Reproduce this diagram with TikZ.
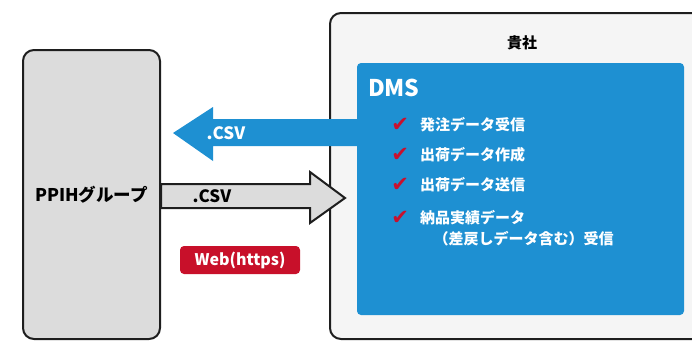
\documentclass[tikz,border=0pt]{standalone}
\usepackage{fontspec}
\setmainfont{Noto Sans CJK JP}
\newfontfamily\symfont{DejaVu Sans}
\usetikzlibrary{positioning}

\definecolor{dmsblue}{HTML}{1E90D2}
\definecolor{ppihgray}{HTML}{DCDCDC}
\definecolor{kishagray}{HTML}{F5F5F5}
\definecolor{webred}{HTML}{C8102A}
\definecolor{checkred}{HTML}{C8102E}
\definecolor{edge}{HTML}{1E1E1E}

\begin{document}
\begin{tikzpicture}[x=1pt,y=-1pt,node distance=4pt,
                    line width=2pt]
  \tikzstyle{company}=[draw=edge,rounded corners=11pt,inner sep=0pt]
  \tikzstyle{item}=[text=white,anchor=west,inner sep=0pt,align=left,
                    font=\fontsize{15}{21}\selectfont\bfseries]
  \tikzstyle{check}=[text=checkred,inner sep=0pt,
                     font=\symfont\fontsize{21}{21}\selectfont\bfseries]
  \tikzstyle{csv}=[inner sep=0pt,font=\fontsize{17}{17}\selectfont\bfseries]

  \useasboundingbox (0,0) rectangle (692,340);
  \clip (0,0) rectangle (692,340);

  \node[company,fill=ppihgray,minimum width=137pt,minimum height=289pt,
        font=\fontsize{17.5}{17.5}\selectfont\bfseries] (ppih) at (91.5,194.5)
    {PPIHグループ};
  \node[company,fill=kishagray,minimum width=390pt,minimum height=326pt]
    (kisha) at (525,176) {};
  \node[font=\fontsize{15}{15}\selectfont\bfseries] (kishaname) at (522,43)
    {貴社};

  \node[fill=dmsblue,rounded corners=4pt,minimum width=327pt,
        minimum height=252pt] (dms) at (520.5,189) {};
  \node[text=white,anchor=base west,inner sep=0pt,
        font=\fontsize{23}{23}\selectfont\bfseries] (dmsname) at (367,96) {DMS};

  \node[item] (recv) at (419,125) {発注データ受信};
  \node[item] (make) at (419,155) {出荷データ作成};
  \node[item] (send) at (419,185) {出荷データ送信};
  \node[item,anchor=north west] (result) at (419,209)
    {納品実績データ\\\hspace{0.9em}（差戻しデータ含む）受信};
  \node[check,left=9pt of recv] (checka) {✔};
  \node[check,left=9pt of make] (checkb) {✔};
  \node[check,left=9pt of send] (checkc) {✔};
  \node[check,left=9pt of result.north west,anchor=north east,
        yshift=-1pt] (checkd) {✔};

  % order data: DMS -> PPIH
  \fill[dmsblue] ([xshift=3pt]dms.west |- 0,119) -- (213,119) -- (213,107)
    -- (173,133) -- (213,161) -- (213,146)
    -- ([xshift=3pt]dms.west |- 0,146) -- cycle;
  \node[csv,text=white] (csvout) at (226,133) {.CSV};

  % shipping data: PPIH -> DMS
  \filldraw[draw=edge,fill=ppihgray,line join=miter]
    (ppih.east |- 0,184) -- (310,184) -- (310,172) -- (345,198)
    -- (310,223) -- (310,208) -- (ppih.east |- 0,208) -- cycle;
  \node[csv] (csvin) at (212,196) {.CSV};

  \node[fill=webred,rounded corners=4pt,minimum width=120pt,
        minimum height=28pt,inner sep=0pt,text=white,
        font=\fontsize{16}{16}\selectfont\bfseries] (web) at (240,260)
    {Web(https)};
\end{tikzpicture}
\end{document}
